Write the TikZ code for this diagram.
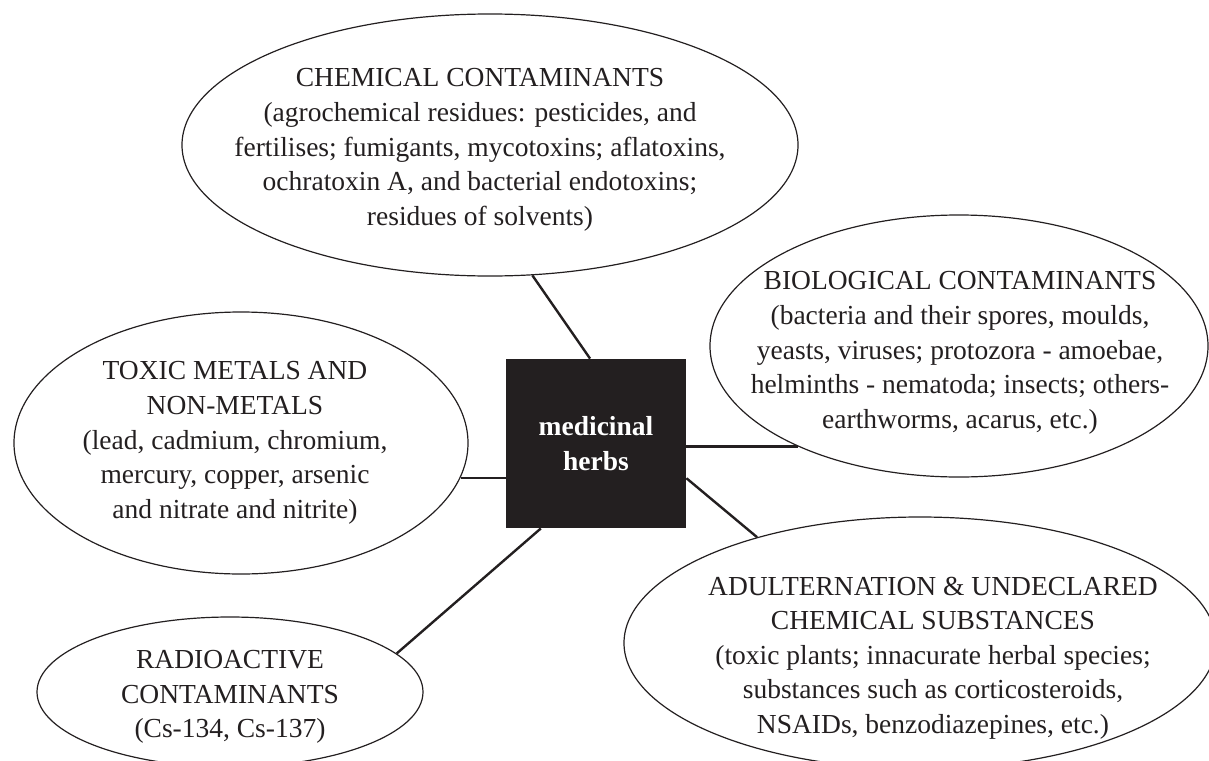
\documentclass[tikz,border=0pt]{standalone}
\usepackage{fontspec}
\setmainfont{Liberation Serif}
\usetikzlibrary{shapes.geometric}
\definecolor{ink}{HTML}{231F20}
\tikzset{
  oval/.style = {draw=ink, ellipse, line width=0.6pt, inner sep=0pt},
  core/.style = {fill=ink, text=white, inner sep=0pt, align=center,
    font=\fontsize{13.75}{17.3}\selectfont\bfseries},
  txt/.style = {text=ink, align=center, font=\fontsize{13.75}{17.3}\selectfont},
  link/.style = {draw=ink, line width=1.2pt}
}

\begin{document}
\begin{tikzpicture}[x=0.5pt,y=-0.5pt]
  \useasboundingbox (0,0) rectangle (1209,760);
  \clip (0,0) rectangle (1209,760);
  % centre
  \node[core, minimum width=90pt, minimum height=84.5pt] (herbs) at (596,443.5) {medicinal\\herbs};
  % the five groups
  \node[oval, minimum width=308pt, minimum height=131pt] (chem) at (490,145) {};
  \node[oval, minimum width=249pt, minimum height=131pt] (bio) at (959,346) {};
  \node[oval, minimum width=227pt, minimum height=131pt] (toxic) at (241,443) {};
  \node[oval, minimum width=296pt, minimum height=126pt] (adult) at (920,643) {};
  \node[oval, minimum width=193pt, minimum height=75pt] (radio) at (230,692) {};
  \node[txt] (chemtext) at (480,150) {CHEMICAL CONTAMINANTS\\(agrochemical residues: pesticides, and\\fertilises; fumigants, mycotoxins; aflatoxins,\\ochratoxin A, and bacterial endotoxins;\\residues of solvents)};
  \node[txt] (biotext) at (960,353) {BIOLOGICAL CONTAMINANTS\\(bacteria and their spores, moulds,\\yeasts, viruses; protozora - amoebae,\\helminths - nematoda; insects; others-\\earthworms, acarus, etc.)};
  \node[txt] (toxictext) at (235,443) {TOXIC METALS AND\\NON-METALS\\(lead, cadmium, chromium,\\mercury, copper, arsenic\\and nitrate and nitrite)};
  \node[txt] (adulttext) at (933,658) {ADULTERNATION \& UNDECLARED\\CHEMICAL SUBSTANCES\\(toxic plants; innacurate herbal species;\\substances such as corticosteroids,\\NSAIDs, benzodiazepines, etc.)};
  \node[txt] (radiotext) at (230,697) {RADIOACTIVE\\CONTAMINANTS\\(Cs-134, Cs-137)};
  % links
  \draw[link] (herbs.94.1) -- (chem.-72.8);
  \draw[link] (herbs.-2.9) -- (herbs.-2.9 -| bio.212.7);
  \draw[link] (toxic.-9.3) -- (toxic.-9.3 -| herbs.west);
  \draw[link] (herbs.-21.5) -- (adult.147.9);
  \draw[link] (herbs.237.4) -- (radio.13.4);
\end{tikzpicture}
\end{document}
